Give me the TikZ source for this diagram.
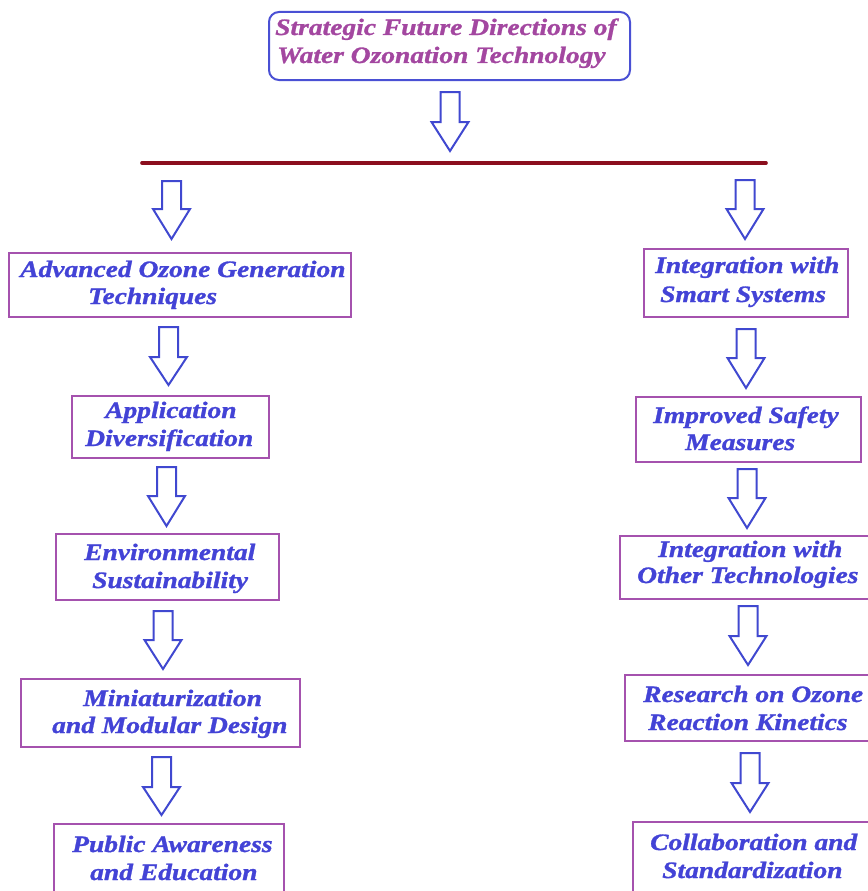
\documentclass[tikz,border=0pt]{standalone}
\usepackage{fontspec}
\newfontfamily\boxfont{Liberation Serif Bold Italic}[FakeStretch=1.17, FakeBold=1.2]
\definecolor{boxpurple}{HTML}{A552AE}
\definecolor{txtblue}{HTML}{4343D6}
\definecolor{arrblue}{HTML}{4048D0}
\definecolor{titlemag}{HTML}{A347A0}
\definecolor{titleborder}{HTML}{4A50D4}
\definecolor{barred}{HTML}{8B0E1E}
\tikzset{
  pbox/.style={draw=boxpurple, line width=2.2pt, fill=none, inner sep=0pt},
  tbox/.style={draw=titleborder, line width=2pt, rounded corners=10pt, inner sep=0pt},
  lbl/.style={anchor=base west, inner sep=0pt, text=txtblue,
              font=\boxfont\fontsize{23.5}{28}\selectfont},
  ttl/.style={lbl, text=titlemag},
  arrowline/.style={draw=arrblue, line width=2pt, line join=miter, fill=white},
  redbar/.style={draw=barred, line width=3.6pt, line cap=round}
}
% hollow down arrow: centre x, top of shaft, start of head, tip
\newcommand\hollowdown[4]{%
  \draw[arrowline] (#1-9.5,#2) -- (#1+9.5,#2) -- (#1+9.5,#3) -- (#1+18.5,#3)
    -- (#1,#4) -- (#1-18.5,#3) -- (#1-9.5,#3) -- cycle;}
\begin{document}
\begin{tikzpicture}[x=1pt, y=-1pt]
\useasboundingbox (0,0) rectangle (867,891);

% title
\node[tbox, minimum width=361pt, minimum height=68pt] (top) at (449.5,46) {};
\node[ttl] (top1) at (275,35) {Strategic Future Directions of};
\node[ttl] (top2) at (277,63) {Water Ozonation Technology};

\hollowdown{450}{92}{122}{151}
\coordinate (barL) at (142,163);
\coordinate (barR) at (766,163);
\draw[redbar] (barL) -- (barR);

% left column
\node[pbox, minimum width=342pt, minimum height=64pt] (b1) at (180,285) {};
\node[lbl] (b1a) at (20,277) {Advanced Ozone Generation};
\node[lbl] (b1b) at (88,304) {Techniques};

\node[pbox, minimum width=197pt, minimum height=62pt] (b2) at (170.5,427) {};
\node[lbl] (b2a) at (105,418) {Application};
\node[lbl] (b2b) at (85,446) {Diversification};

\node[pbox, minimum width=223pt, minimum height=66pt] (b3) at (167.5,567) {};
\node[lbl] (b3a) at (84,560) {Environmental};
\node[lbl] (b3b) at (92,588) {Sustainability};

\node[pbox, minimum width=279pt, minimum height=68pt] (b4) at (160.5,713) {};
\node[lbl] (b4a) at (83,706) {Miniaturization};
\node[lbl] (b4b) at (52,733) {and Modular Design};

\node[pbox, minimum width=230pt, minimum height=76pt] (b5) at (169,862) {};
\node[lbl] (b5a) at (72,852) {Public Awareness};
\node[lbl] (b5b) at (90,880) {and Education};

\hollowdown{171.5}{181}{209}{239}
\hollowdown{168.5}{327}{357}{385}
\hollowdown{166.5}{467}{496}{526}
\hollowdown{163}{611}{640}{669}
\hollowdown{161.5}{757}{787}{815}

% right column
\node[pbox, minimum width=204pt, minimum height=68pt] (r1) at (746,283) {};
\node[lbl] (r1a) at (655,273) {Integration with};
\node[lbl] (r1b) at (660,302) {Smart Systems};

\node[pbox, minimum width=225pt, minimum height=65pt] (r2) at (748.5,429.5) {};
\node[lbl] (r2a) at (653,423) {Improved Safety};
\node[lbl] (r2b) at (685,450) {Measures};

\node[pbox, minimum width=255pt, minimum height=63pt] (r3) at (747.5,567.5) {};
\node[lbl] (r3a) at (658,557) {Integration with};
\node[lbl] (r3b) at (637,583) {Other Technologies};

\node[pbox, minimum width=250pt, minimum height=66pt] (r4) at (750,708) {};
\node[lbl] (r4a) at (643,702) {Research on Ozone};
\node[lbl] (r4b) at (648,730) {Reaction Kinetics};

\node[pbox, minimum width=242pt, minimum height=78pt] (r5) at (754,861) {};
\node[lbl] (r5a) at (650,850) {Collaboration and};
\node[lbl] (r5b) at (662,878) {Standardization};

\hollowdown{745}{180}{209}{239}
\hollowdown{746}{329}{358}{388}
\hollowdown{747}{469}{498}{528}
\hollowdown{748}{606}{636}{665}
\hollowdown{750}{753}{783}{812}
\end{tikzpicture}
\end{document}
